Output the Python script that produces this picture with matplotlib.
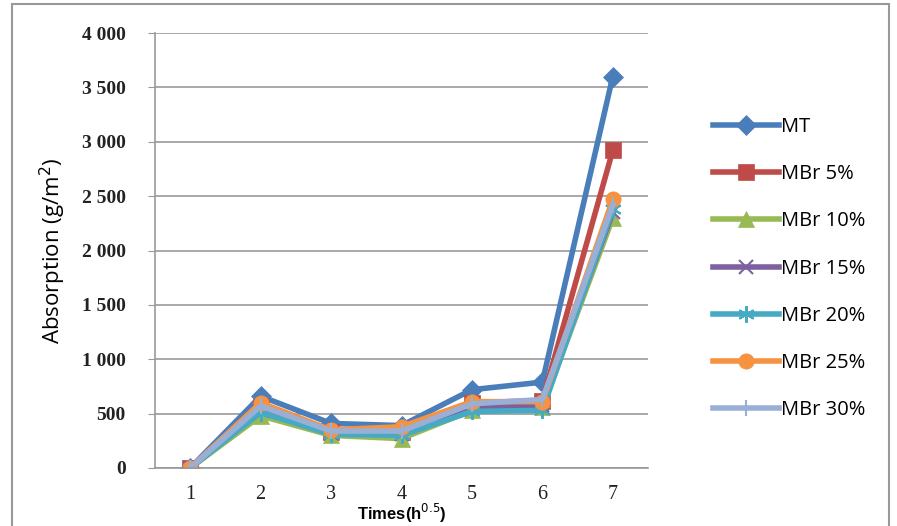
import matplotlib
matplotlib.use("Agg")
import numpy as np
import matplotlib.pyplot as plt
import matplotlib.ticker as ticker
from matplotlib.patches import Rectangle

# Data
times = [1, 2, 3, 4, 5, 6, 7]
mt = [0, 660, 410, 390, 720, 790, 3600]
mbr_5 = [0, 560, 330, 330, 600, 620, 2920]
mbr_10 = [0, 480, 300, 270, 530, 560, 2300]
mbr_15 = [0, 530, 320, 310, 560, 580, 2350]
mbr_20 = [0, 510, 310, 300, 520, 530, 2380]
mbr_25 = [0, 600, 350, 380, 610, 610, 2470]
mbr_30 = [0, 570, 340, 340, 590, 630, 2420]

series = [
    ("MT", mt, "#4A7EBB", "D", 10),
    ("MBr 5%", mbr_5, "#BE4B48", "s", 11),
    ("MBr 10%", mbr_10, "#98B954", "^", 11),
    ("MBr 15%", mbr_15, "#7D60A0", "x", 10),
    ("MBr 20%", mbr_20, "#46AAC5", (6, 2, 0), 12),
    ("MBr 25%", mbr_25, "#F69240", "o", 11),
    ("MBr 30%", mbr_30, "#9AAFD6", "|", 11),
]

fig = plt.figure(figsize=(8.97, 5.26), dpi=100)
ax = fig.add_axes([155 / 897, 1 - 468 / 526, 493 / 897, 435 / 526])

for name, vals, col, mk, ms in series:
    thin = mk in ("x", "|") or isinstance(mk, tuple)
    ax.plot(times, vals, color=col, linewidth=4, marker=mk, markersize=ms,
            markeredgewidth=1.5 if thin else 0.5,
            markeredgecolor=col, markerfacecolor=col, label=name)

ax.set_xlim(0.5, 7.5)
ax.set_ylim(0, 4000)
ax.set_xticks(times)
ax.set_yticks(np.arange(0, 4001, 500))
ax.yaxis.set_major_formatter(
    ticker.FuncFormatter(lambda v, p: f"{int(v):,}".replace(",", " ")))
ax.grid(axis="y", color="#999999", linewidth=1.2)
ax.set_axisbelow(True)
for s in ["top", "right"]:
    ax.spines[s].set_visible(False)
for s in ["left", "bottom"]:
    ax.spines[s].set_color("#999999")
    ax.spines[s].set_linewidth(1.2)
ax.tick_params(axis="x", length=0, pad=12, labelsize=14.5)
ax.tick_params(axis="y", length=5, color="#999999", pad=16, labelsize=14)
for lab in ax.get_xticklabels() + ax.get_yticklabels():
    lab.set_fontfamily("Liberation Serif")
    lab.set_color("#222222")
for lab in ax.get_yticklabels():
    lab.set_fontweight("bold")

ax.set_ylabel("Absorption (g/m$^2$)", fontsize=16, family="Open Sans",
              labelpad=10)
ax.set_xlabel("Times(h$^{0.5}$)", fontsize=12, fontweight="bold",
              family="Liberation Sans", labelpad=-1)

ax.legend(loc="upper left", bbox_to_anchor=(713 / 897, 1 - 117 / 526),
          bbox_transform=fig.transFigure, frameon=False,
          prop={"family": "Open Sans", "size": 14.5},
          handlelength=3.3, handletextpad=0.1, labelspacing=1.35,
          borderaxespad=0, borderpad=0)

fig.patches.append(Rectangle((12 / 897, -10 / 526), 877 / 897, 532 / 526,
                             transform=fig.transFigure, fill=False,
                             edgecolor="#999999", linewidth=1.5))

fig.savefig("out.png", dpi=100)
